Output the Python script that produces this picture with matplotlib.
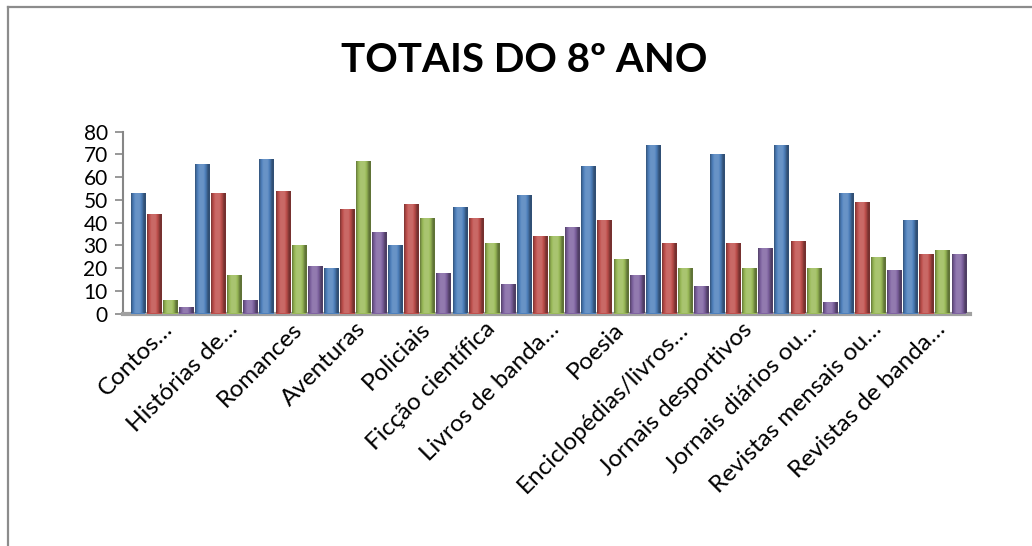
import matplotlib
matplotlib.use("Agg")
import matplotlib.pyplot as plt
import numpy as np
from matplotlib.lines import Line2D
from matplotlib.colors import to_rgb
import matplotlib.transforms as mtransforms

categories = ["Contos…", "Histórias de…", "Romances", "Aventuras", "Policiais",
              "Ficção científica", "Livros de banda…", "Poesia",
              "Enciclopédias/livros…", "Jornais desportivos", "Jornais diários ou…",
              "Revistas mensais ou…", "Revistas de banda…"]
series_blue = [53, 66, 68, 20, 30, 47, 52, 65, 74, 70, 74, 53, 41]
series_red = [44, 53, 54, 46, 48, 42, 34, 41, 31, 31, 32, 49, 26]
series_green = [6, 17, 30, 67, 42, 31, 34, 24, 20, 20, 20, 25, 28]
series_purple = [3, 6, 21, 36, 18, 13, 38, 17, 12, 29, 5, 19, 26]
yticks = [0, 10, 20, 30, 40, 50, 60, 70, 80]
title = "TOTAIS DO 8º ANO"

colors = ["#4F81BD", "#C0504D", "#9BBB59", "#8064A2"]

plt.rcParams['font.family'] = ['Lato', 'DejaVu Sans']

fig = plt.figure(figsize=(10.32, 5.46), dpi=100)
# outer chart border (only top and left visible in the reference)
fig.lines.append(Line2D([8/1032, 1.0], [1 - 7/546, 1 - 7/546], transform=fig.transFigure,
                        color="#8C8C8C", linewidth=1.6))
fig.lines.append(Line2D([8/1032, 8/1032], [0.0, 1 - 7/546], transform=fig.transFigure,
                        color="#8C8C8C", linewidth=1.6))

ax = fig.add_axes([123/1032, 1 - 313.5/546, 847/1032, 181.8/546])

x = np.arange(len(categories))
allseries = [series_blue, series_red, series_green, series_purple]
offsets = [-0.375, -0.125, 0.125, 0.375]
bw = 0.23

# horizontal shading profile for a cylinder look
t = np.linspace(0, 1, 64)
shade = 0.62 + 0.55 * np.sin(np.pi * np.clip(t * 1.15, 0, 1)) ** 0.8
shade = np.clip(shade, 0, 1.12)

def shaded(color):
    r, g, b = to_rgb(color)
    base = np.array([r, g, b])
    rows = []
    for s in shade:
        if s <= 1:
            rows.append(base * s)
        else:
            rows.append(base + (1 - base) * (s - 1) * 1.2)
    return np.clip(np.array(rows), 0, 1)[None, :, :]

for s, off, c in zip(allseries, offsets, colors):
    bars = ax.bar(x + off, s, width=bw, color=c, edgecolor="none", zorder=3)
    img = shaded(c)
    for rect in bars:
        x0 = rect.get_x()
        h = rect.get_height()
        im = ax.imshow(img, extent=[x0, x0 + bw, 0, h], aspect='auto', zorder=4,
                       interpolation='bilinear')
        im.set_clip_path(rect)

ax.set_xlim(-0.609, 12.547)
ax.set_ylim(0, 80)
ax.set_yticks(yticks)
ax.set_yticklabels([str(v) for v in yticks], fontsize=15)
ax.set_xticks(x)
offset = mtransforms.ScaledTranslation(0/100, -47/100, fig.dpi_scale_trans)
ax.set_xticklabels(categories, rotation=45, ha='right', va='top', rotation_mode='anchor', fontsize=17.5)
for lbl in ax.get_xticklabels():
    lbl.set_transform(lbl.get_transform() + offset)
ax.tick_params(axis='x', length=0)
ax.tick_params(axis='y', length=6, color="#868686", width=1.2, pad=5)

for sp in ['top', 'right']:
    ax.spines[sp].set_visible(False)
ax.spines['left'].set_color("#868686")
ax.spines['left'].set_linewidth(1.5)
ax.spines['bottom'].set_color("#A0A0A0")
ax.spines['bottom'].set_linewidth(3)

fig.text(524/1032, 1 - 60/546, title, ha='center', va='center', fontsize=29, fontweight='bold')

fig.savefig("out.png", dpi=100)
